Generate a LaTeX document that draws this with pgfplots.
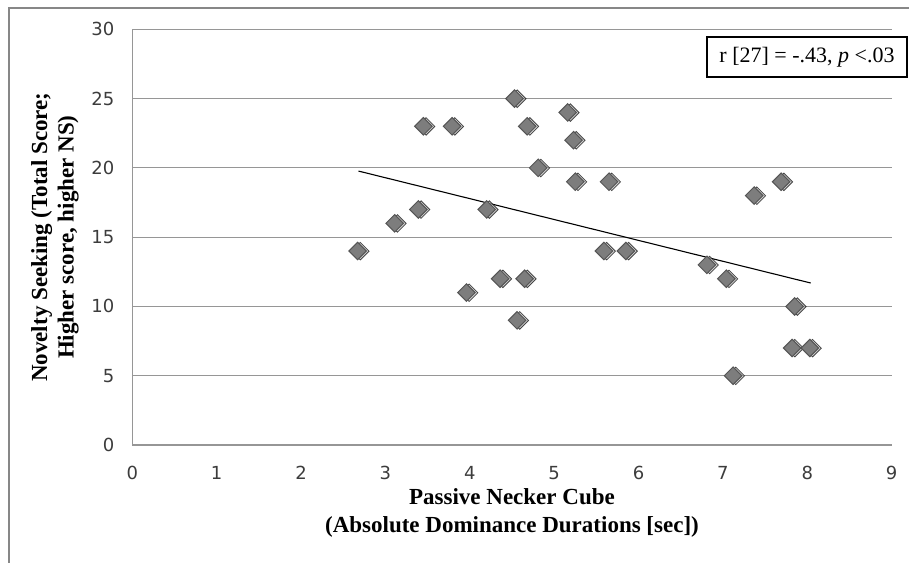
\documentclass[border=0pt]{standalone}
\usepackage{fontspec}
\setmainfont{Liberation Serif}
\newfontfamily\tickfont{DejaVu Sans}
\usepackage{pgfplots}
\pgfplotsset{compat=1.18}
\usepackage{pgfplotstable}
\definecolor{gridgray}{RGB}{150,150,150}
\definecolor{framegray}{RGB}{135,135,135}
\definecolor{markfill}{RGB}{125,125,125}
\definecolor{markedge}{RGB}{85,85,85}
\definecolor{tickcol}{RGB}{60,60,60}
\pgfplotstableread{
x y
2.67 14
3.11 16
3.39 17
3.45 23
3.79 23
3.96 11
4.20 17
4.36 12
4.53 25
4.56 9
4.65 12
4.68 23
4.81 20
5.16 24
5.23 22
5.25 19
5.59 14
5.65 19
5.85 14
6.81 13
7.04 12
7.12 5
7.37 18
7.69 19
7.82 7
7.85 10
8.03 7
}\datatable
\pgfplotstableread{
x y
2.68 19.77
8.04 11.69
}\trendtable
\begin{document}
\begin{tikzpicture}
\useasboundingbox (0,0) rectangle (454.5pt,281pt);
\draw[framegray, line width=1pt] (4.6pt,-2pt) -- (4.6pt,277pt) -- (460pt,277pt);
\begin{axis}[
  at={(66.15pt,58.5pt)}, anchor=south west,
  scale only axis, width=379.7pt, height=207.85pt,
  xmin=0, xmax=9, ymin=0, ymax=30,
  xtick={0,...,9}, ytick={0,5,...,30},
  axis x line*=bottom, axis y line*=left,
  axis line style={gridgray, line width=0.6pt, -},
  ymajorgrids, grid style={gridgray, line width=0.6pt},
  tick style={draw=none},
  /pgf/number format/assume math mode=true,
  ticklabel style={font=\tickfont\fontsize{9}{11}\selectfont, text=tickcol},
  xticklabel style={yshift=-7pt},
  yticklabel style={xshift=-5.5pt},
  clip=false,
  every axis x label/.style={at={(axis description cs:0.5,0)}, anchor=center, yshift=-34pt, align=center, font=\fontsize{11.5}{13.7}\selectfont\bfseries},
  every axis y label/.style={at={(axis description cs:-0.1018,0.5)}, rotate=90, anchor=center, align=center, font=\fontsize{11.5}{13.2}\selectfont\bfseries},
  xlabel={Passive Necker Cube\\(Absolute Dominance Durations [sec])},
  ylabel={Novelty Seeking (Total Score;\\Higher score, higher NS)},
]
\addplot[only marks, mark=square*, mark size=3.1pt,
  mark options={rotate=45, fill=black!25, draw=none, opacity=0.7, xshift=0.9pt, yshift=-1pt}] table {\datatable};
\addplot[only marks, mark=square*, mark size=3.1pt,
  mark options={rotate=45, fill=markfill, draw=markedge, line width=0.5pt}] table {\datatable};
\addplot[black, line width=0.55pt, no marks] table {\trendtable};
\node[draw=black, line width=0.7pt, minimum width=100pt, minimum height=20pt, inner sep=0pt,
  font=\fontsize{11}{13}\selectfont] at (rel axis cs:0.8885,0.933) {r [27] = -.43, \textit{p} <.03};
\end{axis}
\end{tikzpicture}
\end{document}
